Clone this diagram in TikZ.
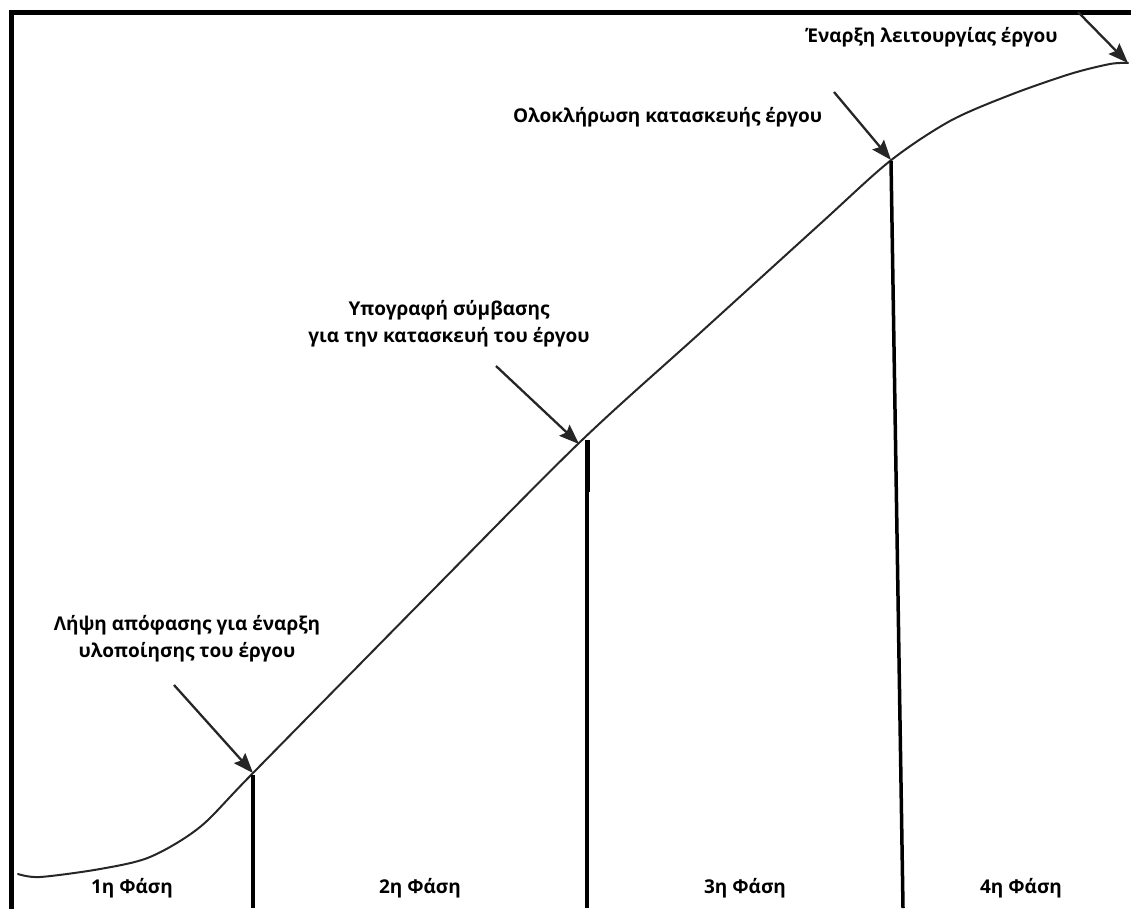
\documentclass[tikz,border=0pt]{standalone}
\usepackage{fontspec}
\setmainfont{Open Sans}
\usetikzlibrary{arrows.meta}
\begin{document}
\begin{tikzpicture}[x=1pt,y=-1pt,
  frameline/.style={line width=5pt,black},
  curveline/.style={line width=2pt,black!85,line cap=round},
  pointer/.style={line width=2.3pt,black!85,-{Stealth[length=20pt,width=15pt,inset=3pt]}},
  divider/.style={line width=3.5pt,black},
  lbl/.style={font=\fontsize{19}{27}\selectfont\bfseries,align=center,inner sep=0pt},
  phase/.style={font=\fontsize{19}{27}\selectfont\bfseries,inner sep=0pt}]
\useasboundingbox (0,0) rectangle (1131,908);
% frame
\coordinate (fl) at (11,908);
\coordinate (fc) at (11,12);
\coordinate (fr) at (1131,12);
\draw[frameline,line cap=rect] (fl) -- (fc) -- (fr);
% curve
\draw[curveline] plot[smooth,tension=0.5] coordinates {(18,874) (40,877) (100,869) (150,857) (200,827) (253,773) (430,593) (580,442) (700,333) (820,224) (890,161) (950,121) (1010,95) (1070,74) (1110,64) (1128,63)};
% points on the curve
\coordinate (t1) at (253,773);
\coordinate (t2) at (579,444);
\coordinate (t3) at (891,160);
\coordinate (t4) at (1128,63);
% arrow starts
\coordinate (s1) at (174,685);
\coordinate (s2) at (496,366);
\coordinate (s3) at (834,92);
\coordinate (s4) at (1078,12);
\draw[pointer] (s1) -- (t1);
\draw[pointer] (s2) -- (t2);
\draw[pointer] (s3) -- (t3);
\draw[pointer] (s4) -- (t4);
% dividers
\coordinate (v1t) at (253,775);
\coordinate (v1b) at (253,908);
\coordinate (v2t) at (587,440);
\coordinate (v2m) at (587,492);
\coordinate (v2b) at (587,908);
\coordinate (v3t) at (891,161);
\coordinate (v3b) at (903,908);
\draw[divider] (v1t) -- (v1b);
\draw[divider,line width=5pt] (v2t) -- (v2m);
\draw[divider] (v2m) -- (v2b);
\draw[divider] (v3t) -- (v3b);
% labels
\node[lbl] (l1) at (187,639) {Λήψη απόφασης για έναρξη\\υλοποίησης του έργου};
\node[lbl] (l2) at (449,324) {Υπογραφή σύμβασης\\για την κατασκευή του έργου};
\node[lbl,anchor=west] (l3) at (513,117) {Ολοκλήρωση κατασκευής έργου};
\node[lbl,anchor=west] (l4) at (806,37) {Έναρξη λειτουργίας έργου};
\node[phase] (ph1) at (132,888) {1η Φάση};
\node[phase] (ph2) at (420,888) {2η Φάση};
\node[phase] (ph3) at (745,888) {3η Φάση};
\node[phase] (ph4) at (1021,888) {4η Φάση};
\end{tikzpicture}
\end{document}
